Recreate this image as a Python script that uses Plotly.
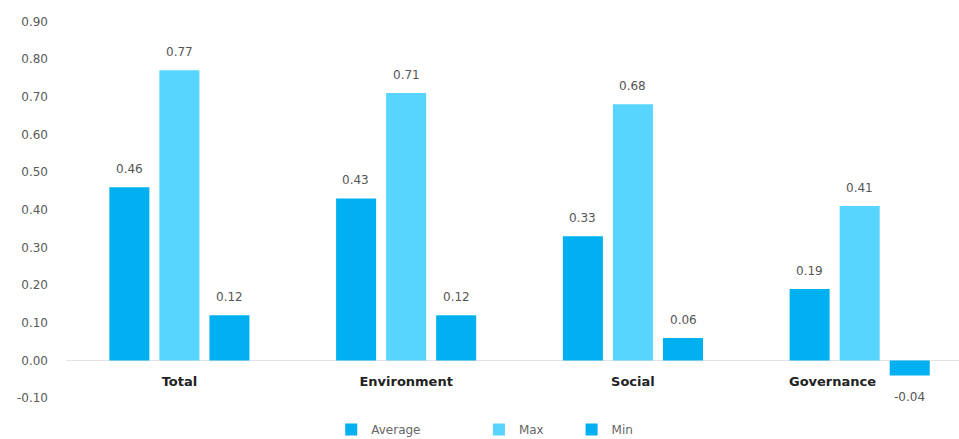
import plotly.graph_objects as go

categories = ["Total", "Environment", "Social", "Governance"]
series_names = ["Average", "Max", "Min"]
average_vals = [0.46, 0.43, 0.33, 0.19]
max_vals = [0.77, 0.71, 0.68, 0.41]
min_vals = [0.12, 0.12, 0.06, -0.04]
y_tick_vals = [-0.1, 0.0, 0.1, 0.2, 0.3, 0.4, 0.5, 0.6, 0.7, 0.8, 0.9]
y_tick_labels = ["-0.10", "0.00", "0.10", "0.20", "0.30", "0.40", "0.50",
                 "0.60", "0.70", "0.80", "0.90"]

colors = ["#00B0F0", "#57D4FF", "#00B0F0"]
NB = "\u00a0"
legend_pad = [NB * 14, NB * 6, ""]
series = [average_vals, max_vals, min_vals]

FONT = "DejaVu Sans"
y_min, y_max = -0.118, 0.93

fig = go.Figure()
for name, vals, col, pad in zip(series_names, series, colors, legend_pad):
    fig.add_trace(go.Bar(
        x=categories, y=vals, name=name + pad,
        marker=dict(color=col, line=dict(width=0)),
        hoverinfo="x+y",
    ))

# data labels
for i, vals in enumerate(series):
    for cat, v in zip(categories, vals):
        fig.add_annotation(
            x=cat, y=v, xref="x", yref="y",
            text=f"{v:.2f}", showarrow=False,
            xshift=(i - 1) * 50.3,
            yshift=18 if v >= 0 else -21,
            yanchor="middle",
            font=dict(family=FONT, size=12, color="#555555"),
        )

tick_text = [c + (NB * 12 if c == categories[-1] else "") for c in categories]

zero_pos = (0 - y_min) / (y_max - y_min)

fig.update_layout(
    width=959, height=439,
    margin=dict(l=66, r=0, t=10, b=34, autoexpand=False),
    paper_bgcolor="white", plot_bgcolor="white",
    barmode="group", bargap=0.338, bargroupgap=0.2,
    font=dict(family=FONT, size=12, color="#555555"),
    showlegend=True,
    legend=dict(
        orientation="h", x=0.297, xanchor="left", y=-0.025, yanchor="top",
        font=dict(family=FONT, size=12, color="#666666"),
        itemclick=False, itemdoubleclick=False,
        bgcolor="rgba(0,0,0,0)",
    ),
    xaxis=dict(
        type="category", range=[-0.5, 3.438], automargin=False,
        tickvals=categories, ticktext=tick_text,
        showgrid=False, showline=False, zeroline=False, ticks="",
        anchor="free", position=zero_pos,
        ticklabelstandoff=11,
        tickfont=dict(family=FONT, size=13, color="#222222", weight="bold"),
    ),
    yaxis=dict(
        range=[y_min, y_max], automargin=False,
        tickvals=y_tick_vals, ticktext=y_tick_labels,
        showgrid=False, showline=False, ticks="",
        zeroline=True, zerolinecolor="#E3E3E3", zerolinewidth=1,
        ticklabelstandoff=17,
        tickfont=dict(family=FONT, size=12, color="#5A5A5A"),
    ),
)

fig.write_html(
    "out.html",
    config={"displayModeBar": False},
    post_script="document.body.style.margin='0';document.body.style.padding='0';"
                "document.documentElement.style.overflow='hidden';",
)
